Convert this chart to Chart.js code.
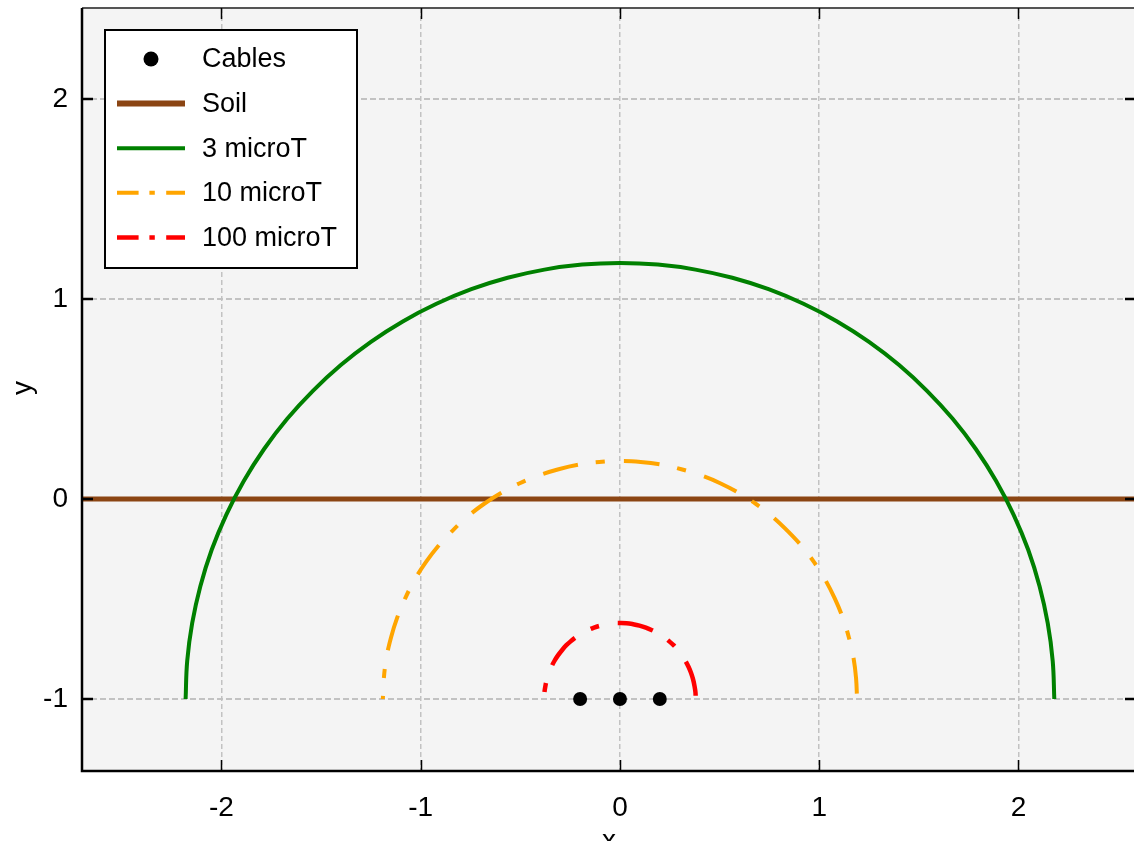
<!DOCTYPE html>
<html>
<head>
<meta charset="utf-8">
<title>Field contours around buried cables</title>
<script src="https://cdn.jsdelivr.net/npm/chart.js@4.4.0/dist/chart.umd.min.js"></script>
<style>
  html, body { margin: 0; padding: 0; background: #fff; overflow: hidden; }
  #wrap { width: 1134px; height: 841px; position: relative; }
</style>
</head>
<body>
<div id="wrap"><canvas id="fieldChart"></canvas></div>
<script>
// cable positions
const cableX = [-0.2, 0, 0.2];
const cableY = [-1, -1, -1];

// ground surface
const soilX = [-2.7, 2.58];
const soilY = [0, 0];

const contour3X = [-2.18, -2.172, -2.147, -2.106, -2.049, -1.976, -1.888, -1.786, -1.67, -1.541,
                   -1.401, -1.25, -1.09, -0.921, -0.746, -0.564, -0.379, -0.19, 0,
                   0.19, 0.379, 0.564, 0.746, 0.921, 1.09, 1.25, 1.401, 1.541,
                   1.67, 1.786, 1.888, 1.976, 2.049, 2.106, 2.147, 2.172, 2.18];
const contour3Y = [-1, -0.81, -0.621, -0.436, -0.254, -0.079, 0.09, 0.25, 0.401, 0.541,
                   0.67, 0.786, 0.888, 0.976, 1.049, 1.106, 1.147, 1.172, 1.18,
                   1.172, 1.147, 1.106, 1.049, 0.976, 0.888, 0.786, 0.67, 0.541,
                   0.401, 0.25, 0.09, -0.079, -0.254, -0.436, -0.621, -0.81, -1];

const contour10X = [-1.19, -1.185, -1.172, -1.149, -1.118, -1.078, -1.031, -0.975, -0.912, -0.841,
                    -0.765, -0.683, -0.595, -0.503, -0.407, -0.308, -0.207, -0.104, 0,
                    0.104, 0.207, 0.308, 0.407, 0.503, 0.595, 0.683, 0.765, 0.841,
                    0.912, 0.975, 1.031, 1.078, 1.118, 1.149, 1.172, 1.185, 1.19];
const contour10Y = [-1, -0.896, -0.793, -0.692, -0.593, -0.497, -0.405, -0.317, -0.235, -0.159,
                    -0.088, -0.025, 0.031, 0.079, 0.118, 0.149, 0.172, 0.185, 0.19,
                    0.185, 0.172, 0.149, 0.118, 0.079, 0.031, -0.025, -0.088, -0.159,
                    -0.235, -0.317, -0.405, -0.497, -0.593, -0.692, -0.793, -0.896, -1];

const contour100X = [-0.38, -0.379, -0.374, -0.367, -0.357, -0.344, -0.329, -0.311, -0.291, -0.269,
                     -0.244, -0.218, -0.19, -0.161, -0.13, -0.098, -0.066, -0.033, 0,
                     0.033, 0.066, 0.098, 0.13, 0.161, 0.19, 0.218, 0.244, 0.269,
                     0.291, 0.311, 0.329, 0.344, 0.357, 0.367, 0.374, 0.379, 0.38];
const contour100Y = [-1, -0.967, -0.934, -0.902, -0.87, -0.839, -0.81, -0.782, -0.756, -0.731,
                     -0.709, -0.689, -0.671, -0.656, -0.643, -0.633, -0.626, -0.621, -0.62,
                     -0.621, -0.626, -0.633, -0.643, -0.656, -0.671, -0.689, -0.709, -0.731,
                     -0.756, -0.782, -0.81, -0.839, -0.87, -0.902, -0.934, -0.967, -1];

const xTicks = [-2, -1, 0, 1, 2];
const yTicks = [-1, 0, 1, 2];

const FONT = '"Liberation Sans", Arial, sans-serif';

function pts(xs, ys) {
    return xs.map((x, i) => ({ x: x, y: ys[i] }));
}

// plot background, frame and inward tick marks
const frame = {
    id: 'frame',
    beforeDraw(chart) {
        const { ctx, chartArea: a } = chart;
        ctx.save();
        ctx.fillStyle = '#f4f4f4';
        ctx.fillRect(a.left, a.top, a.right - a.left, a.bottom - a.top);
        ctx.restore();
    },
    afterDraw(chart) {
        const { ctx, chartArea: a, scales } = chart;
        const len = 11;
        ctx.save();
        // top border
        ctx.strokeStyle = '#555';
        ctx.lineWidth = 2;
        ctx.beginPath();
        ctx.moveTo(a.left, a.top);
        ctx.lineTo(a.right, a.top);
        ctx.stroke();
        // ticks
        ctx.strokeStyle = '#000';
        ctx.lineWidth = 1.5;
        xTicks.forEach(t => {
            const px = Math.round(scales.x.getPixelForValue(t)) + 0.5;
            ctx.beginPath();
            ctx.moveTo(px, a.bottom); ctx.lineTo(px, a.bottom - len);
            ctx.moveTo(px, a.top); ctx.lineTo(px, a.top + len);
            ctx.stroke();
        });
        ctx.lineWidth = 2.5;
        yTicks.forEach(t => {
            const py = Math.round(scales.y.getPixelForValue(t));
            ctx.beginPath();
            ctx.moveTo(a.left, py); ctx.lineTo(a.left + len, py);
            ctx.moveTo(a.right + 2, py); ctx.lineTo(a.right + 2 - len, py);
            ctx.stroke();
        });
        // left and bottom axes
        ctx.lineWidth = 2.5;
        ctx.beginPath();
        ctx.moveTo(a.left, a.top);
        ctx.lineTo(a.left, a.bottom);
        ctx.lineTo(a.right, a.bottom);
        ctx.stroke();

        // axis titles
        ctx.fillStyle = '#000';
        ctx.font = '28px ' + FONT;
        ctx.textAlign = 'center';
        ctx.textBaseline = 'alphabetic';
        ctx.fillText('x', 609, 849);
        ctx.translate(31, 388);
        ctx.rotate(-Math.PI / 2);
        ctx.fillText('y', 0, 0);
        ctx.restore();
    }
};

// legend box inside the plot, upper left
const legendBox = {
    id: 'legendBox',
    afterDraw(chart) {
        const { ctx, chartArea: a } = chart;
        const left = a.left + 23, top = a.top + 22, w = 252, h = 238;
        ctx.save();
        ctx.fillStyle = '#fff';
        ctx.fillRect(left, top, w, h);
        ctx.strokeStyle = '#000';
        ctx.lineWidth = 2;
        ctx.strokeRect(left, top, w, h);
        ctx.font = '27px ' + FONT;
        ctx.textBaseline = 'middle';
        ctx.textAlign = 'left';
        chart.data.datasets.forEach((ds, i) => {
            const y = top + 29 + i * 44.6;
            if (ds.showLine) {
                ctx.strokeStyle = ds.borderColor;
                ctx.lineWidth = ds.label === 'Soil' ? 6 : ds.borderWidth;
                ctx.setLineDash((ds.borderDash || []).map(v => v * 0.6));
                ctx.beginPath();
                ctx.moveTo(left + 12, y);
                ctx.lineTo(left + 80, y);
                ctx.stroke();
                ctx.setLineDash([]);
            } else {
                ctx.fillStyle = ds.pointBackgroundColor;
                ctx.beginPath();
                ctx.arc(left + 46, y, 7.5, 0, Math.PI * 2);
                ctx.fill();
            }
            ctx.fillStyle = '#000';
            ctx.fillText(ds.label, left + 97, y + 1);
        });
        ctx.restore();
    }
};

const dashDot = [36, 18, 9, 19];

// keep the plot box fixed; drop the label overhang padding Chart.js adds
function noPad(s) {
    s.paddingTop = 0; s.paddingBottom = 0;
    s.paddingLeft = 0; s.paddingRight = 0;
}

new Chart(document.getElementById('fieldChart'), {
    type: 'scatter',
    data: {
        datasets: [
            {
                label: 'Cables',
                data: pts(cableX, cableY),
                showLine: false,
                pointRadius: 7,
                pointBackgroundColor: '#000',
                pointBorderWidth: 0,
                order: 0
            },
            {
                label: 'Soil',
                data: pts(soilX, soilY),
                showLine: true,
                borderColor: '#8b4513',
                borderWidth: 5,
                pointRadius: 0,
                order: 4
            },
            {
                label: '3 microT',
                data: pts(contour3X, contour3Y),
                showLine: true,
                borderColor: '#008000',
                borderWidth: 4,
                tension: 0.4,
                pointRadius: 0,
                order: 3
            },
            {
                label: '10 microT',
                data: pts(contour10X, contour10Y),
                showLine: true,
                borderColor: '#ffa500',
                borderWidth: 4,
                borderDash: dashDot,
                borderDashOffset: 33,
                tension: 0.4,
                pointRadius: 0,
                order: 2
            },
            {
                label: '100 microT',
                data: pts(contour100X, contour100Y),
                showLine: true,
                borderColor: '#ff0000',
                borderWidth: 4.5,
                borderDash: dashDot,
                borderDashOffset: 47,
                tension: 0.4,
                pointRadius: 0,
                order: 1
            }
        ]
    },
    options: {
        responsive: true,
        maintainAspectRatio: false,
        animation: false,
        layout: { autoPadding: false, padding: { top: 8, right: 0, left: 0, bottom: 0 } },
        plugins: {
            legend: { display: false },
            tooltip: { enabled: false }
        },
        scales: {
            x: {
                type: 'linear',
                min: -2.7,
                max: 2.58,
                afterBuildTicks: s => { s.ticks = xTicks.map(v => ({ value: v })); },
                afterFit: s => { s.height = 70; noPad(s); },
                grid: { color: '#c2c2c2', lineWidth: 1.5, drawTicks: false },
                border: { display: false, dash: [5, 3] },
                ticks: {
                    color: '#000',
                    padding: 20,
                    maxRotation: 0,
                    font: { family: FONT, size: 28 }
                }
            },
            y: {
                type: 'linear',
                min: -1.36,
                max: 2.455,
                afterBuildTicks: s => { s.ticks = yTicks.map(v => ({ value: v })); },
                afterFit: s => { s.width = 82; noPad(s); },
                grid: { color: '#c2c2c2', lineWidth: 2, drawTicks: false },
                border: { display: false, dash: [6, 3] },
                ticks: {
                    color: '#000',
                    padding: 14,
                    font: { family: FONT, size: 28 }
                }
            }
        }
    },
    plugins: [frame, legendBox]
});
</script>
</body>
</html>
